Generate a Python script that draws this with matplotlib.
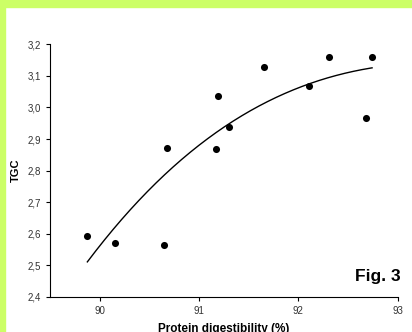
import matplotlib
matplotlib.use('Agg')
import matplotlib.pyplot as plt
from matplotlib.patches import Rectangle
from matplotlib.ticker import FuncFormatter
import numpy as np

plt.rcParams['font.family'] = ['Liberation Sans', 'DejaVu Sans']

# protein digestibility (%) vs TGC
digest = [89.876, 90.158, 90.648, 90.678, 91.171, 91.192, 91.299, 91.652, 92.105, 92.31, 92.676, 92.742]
tgc = [2.594, 2.572, 2.566, 2.873, 2.867, 3.035, 2.937, 3.127, 3.068, 3.159, 2.966, 3.160]

# trend curve
trend_x = [89.876, 90.676, 91.299, 91.652, 92.105, 92.742]
trend_y = [2.512, 2.790, 2.950, 3.018, 3.068, 3.127]

fig = plt.figure(figsize=(4.12, 3.32), dpi=100)
# green frame on top and left
fig.patches.append(Rectangle((0, 1 - 7/332), 1, 7/332, transform=fig.transFigure, color='#ccff66', zorder=0))
fig.patches.append(Rectangle((0, 0), 5/412, 1, transform=fig.transFigure, color='#ccff66', zorder=0))

ax = fig.add_axes([50/412, 1 - 297/332, (397.7 - 50)/412, (297 - 44.3)/332])
ax.scatter(digest, tgc, s=26, color='black', zorder=3, linewidths=0)

c = np.polyfit(trend_x, trend_y, 3)
xs = np.linspace(min(trend_x), max(trend_x), 200)
ax.plot(xs, np.polyval(c, xs), color='black', lw=1)

ax.set_xlim(89.5, 93)
ax.set_ylim(2.4, 3.2)
ax.set_xticks([90, 91, 92, 93])
ax.set_yticks(np.arange(2.4, 3.21, 0.1))
ax.yaxis.set_major_formatter(FuncFormatter(lambda v, p: f'{v:.1f}'.replace('.', ',')))
ax.tick_params(labelsize=7, length=3, width=0.8, colors='black', labelcolor='#333333')
for s in ['top', 'right']:
  ax.spines[s].set_visible(False)
ax.set_xlabel('Protein digestibility (%)', fontsize=8.5, fontweight='bold', labelpad=5)
ax.set_ylabel('TGC', fontsize=8, fontweight='bold', labelpad=5)
fig.text(401/412, 1 - 277/332, 'Fig. 3', ha='right', va='center', fontsize=12.5, fontweight='bold')

fig.savefig('out.png', dpi=100)
